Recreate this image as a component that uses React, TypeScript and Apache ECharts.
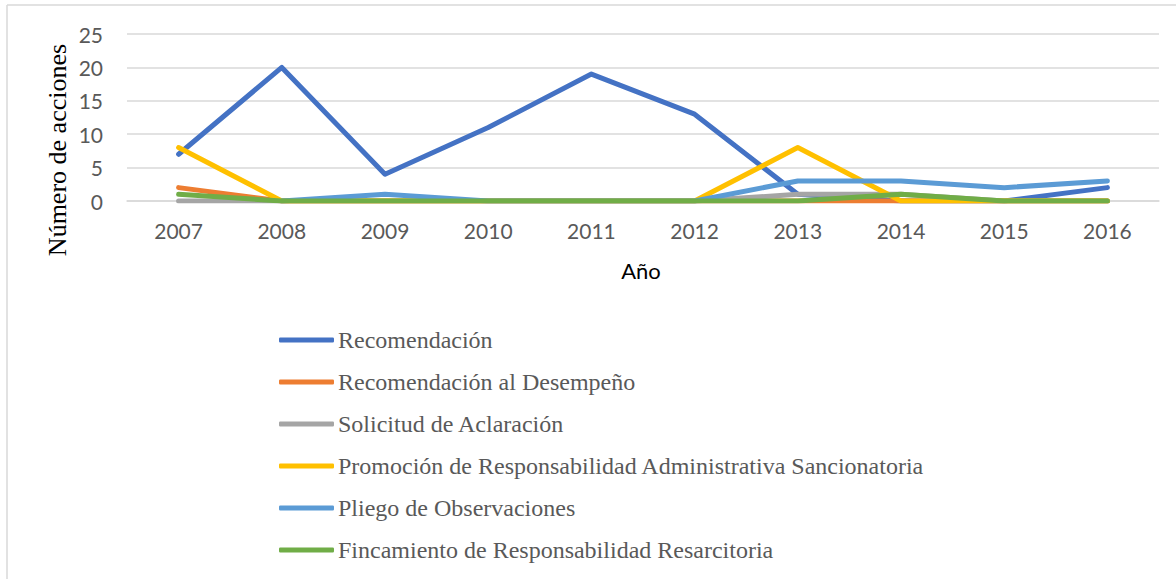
import React, { useEffect, useRef } from "react";
import * as echarts from "echarts";

const years = ["2007", "2008", "2009", "2010", "2011", "2012", "2013", "2014", "2015", "2016"];
const recomendacion = [7, 20, 4, 11, 19, 13, 1, 0, 0, 2];
const recomDesempeno = [2, 0, 0, 0, 0, 0, 0, 0, 0, 0];
const solicitud = [0, 0, 0, 0, 0, 0, 1, 1, 0, 0];
const promocion = [8, 0, 0, 0, 0, 0, 8, 0, 0, 0];
const pliego = [null, 0, 1, 0, 0, 0, 3, 3, 2, 3];
const fincamiento = [1, 0, 0, 0, 0, 0, 0, 1, 0, 0];

const seriesNames = [
  "Recomendación",
  "Recomendación al Desempeño",
  "Solicitud de Aclaración",
  "Promoción de Responsabilidad Administrativa Sancionatoria",
  "Pliego de Observaciones",
  "Fincamiento de Responsabilidad Resarcitoria",
];
const seriesData = [recomendacion, recomDesempeno, solicitud, promocion, pliego, fincamiento];
const colors = ["#4472C4", "#ED7D31", "#A5A5A5", "#FFC000", "#5B9BD5", "#70AD47"];

export default function App() {
  const ref = useRef<HTMLDivElement>(null);
  useEffect(() => {
    if (!ref.current) return;
    const chart = echarts.init(ref.current, null, { renderer: "svg" });
    chart.setOption({
      animation: false,
      color: colors,
      grid: { left: 127, right: 17, top: 34, bottom: 378, containLabel: false },
      xAxis: {
        type: "category",
        data: years,
        boundaryGap: true,
        axisLine: { show: true, lineStyle: { color: "#d9d9d9", width: 1.5 } },
        axisTick: { show: false },
        axisLabel: { color: "#595959", fontFamily: "Lato", fontSize: 21, margin: 19 },
      },
      yAxis: {
        type: "value",
        min: 0,
        max: 25,
        interval: 5,
        axisLine: { show: false },
        axisTick: { show: false },
        splitLine: { lineStyle: { color: "#d9d9d9", width: 1.5 } },
        axisLabel: { color: "#595959", fontFamily: "Lato", fontSize: 21, margin: 24 },
      },
      legend: {
        orient: "vertical",
        left: 274,
        top: 323,
        itemWidth: 55,
        itemHeight: 5,
        itemGap: 18,
        icon: "roundRect",
        textStyle: {
          color: "#595959",
          fontFamily: "'Liberation Serif', 'Times New Roman', serif",
          fontSize: 24,
          lineHeight: 24,
          padding: [0, 0, 0, -1],
        },
        data: seriesNames,
      },
      graphic: [
        { type: "line", shape: { x1: 7, y1: 5, x2: 1176, y2: 5 }, style: { stroke: "#d9d9d9", lineWidth: 1.5 } },
        { type: "line", shape: { x1: 7, y1: 5, x2: 7, y2: 579 }, style: { stroke: "#d9d9d9", lineWidth: 1.5 } },
        {
          type: "text",
          x: 57,
          y: 150,
          rotation: Math.PI / 2,
          style: {
            text: "Número de acciones",
            fill: "#000",
            font: "26px 'Liberation Serif', 'Times New Roman', serif",
            align: "center",
            verticalAlign: "middle",
          },
        },
        {
          type: "text",
          x: 641,
          y: 270,
          style: {
            text: "Año",
            fill: "#000",
            font: "22px Lato",
            align: "center",
            verticalAlign: "middle",
          },
        },
      ],
      series: seriesNames.map((name, i) => ({
        name,
        type: "line",
        data: seriesData[i],
        showSymbol: false,
        symbol: "none",
        lineStyle: { width: 5, color: colors[i], cap: "round", join: "round" },
        itemStyle: { color: colors[i] },
      })),
    });
    return () => chart.dispose();
  }, []);
  return (
    <div
      ref={ref}
      style={{ position: "fixed", left: 0, top: 0, width: 1176, height: 579, background: "#fff" }}
    />
  );
}
